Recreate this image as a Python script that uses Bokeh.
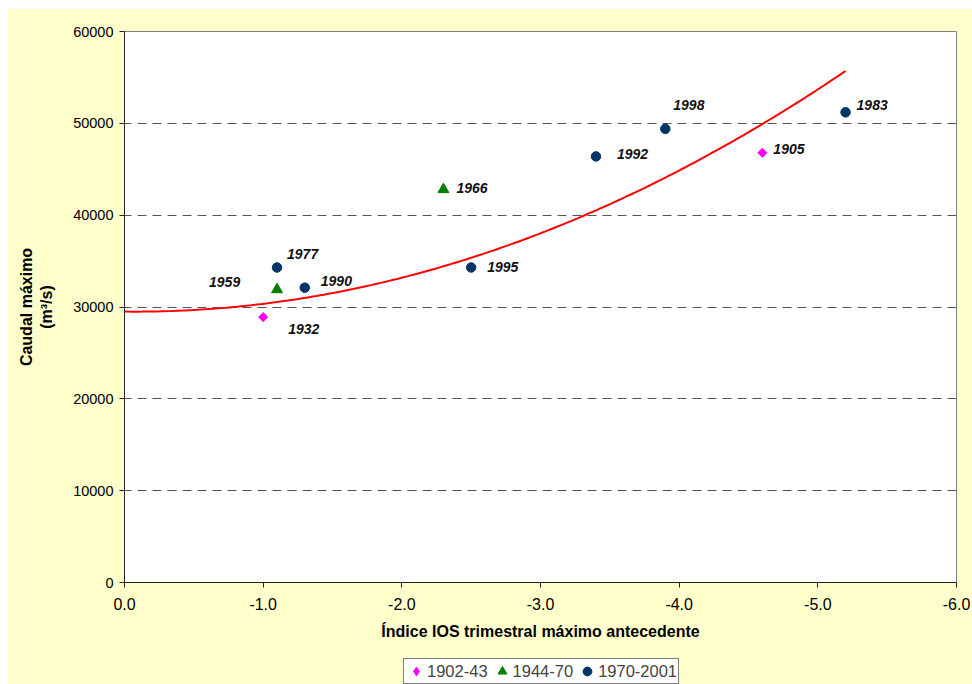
import numpy as np
from bokeh.plotting import figure
from bokeh.layouts import column
from bokeh.models import (ColumnDataSource, Range1d, FixedTicker, NumeralTickFormatter,
                          Legend, LegendItem)
from bokeh.core.properties import value
from bokeh.embed import file_html
from bokeh.resources import INLINE

# ---- data ----
s1_years = ["1932", "1905"]
s1_x = [-1.0, -4.6]
s1_y = [28900, 46800]

s2_years = ["1959", "1966"]
s2_x = [-1.1, -2.3]
s2_y = [31900, 42800]

s3_years = ["1977", "1990", "1995", "1992", "1998", "1983"]
s3_x = [-1.1, -1.3, -2.5, -3.4, -3.9, -5.2]
s3_y = [34300, 32100, 34300, 46400, 49400, 51200]

series_names = ["1902-43", "1944-70", "1970-2001"]

# polynomial trendline (order 2): y = c2*x^2 + c1*x + c0
trend_coef = [998, 151, 29500]
trend_x_range = [0.0, -5.2]

x_ticks = [0, -1, -2, -3, -4, -5, -6]
y_ticks = [0, 10000, 20000, 30000, 40000, 50000, 60000]

# ---- label offsets (styling, screen px) ----
label_offsets = {
    "1932": (25, 12), "1905": (11, -4),
    "1959": (-68, -8), "1966": (13, -1),
    "1977": (10, -14), "1990": (16, -7), "1995": (16, -1),
    "1992": (21, -2), "1998": (8, -24), "1983": (11, -7),
}

FONT = "Liberation Sans"
BG = "#FFFFCC"
C1, C2, C3 = "#FF00FF", "#008000", "#003366"

p = figure(width=964, height=639,
           x_range=Range1d(0, -6), y_range=Range1d(0, 60000),
           output_backend="svg", toolbar_location=None,
           min_border_left=116, min_border_right=16,
           min_border_top=22, min_border_bottom=66,
           border_fill_color=BG, background_fill_color="white",
           outline_line_color="#808080", outline_line_width=1)

# grid
p.xgrid.visible = False
p.ygrid.ticker = FixedTicker(ticks=y_ticks)
p.ygrid.grid_line_color = "#555555"
p.ygrid.grid_line_dash = "9 6"
p.ygrid.grid_line_width = 1

# axes
p.xaxis.ticker = FixedTicker(ticks=x_ticks)
p.xaxis.formatter = NumeralTickFormatter(format="0.0")
p.yaxis.ticker = FixedTicker(ticks=y_ticks)
p.yaxis.formatter = NumeralTickFormatter(format="0")
for ax in (p.xaxis, p.yaxis):
    ax.axis_line_color = "#222222"
    ax.major_tick_line_color = "#222222"
    ax.minor_tick_line_color = None
    ax.major_tick_in = 0
    ax.major_tick_out = 5
    ax.major_label_text_font = FONT
    ax.major_label_text_color = "black"
    ax.axis_label_text_font = FONT
    ax.axis_label_text_font_style = "bold"
    ax.axis_label_text_font_size = "16px"
    ax.axis_label_text_color = "black"

p.xaxis.major_label_text_font_size = "16px"
p.xaxis.major_label_standoff = 10
p.xaxis.axis_label = "Índice IOS trimestral máximo antecedente"
p.xaxis.axis_label_standoff = 10

p.yaxis.major_label_text_font_size = "14.5px"
p.yaxis.major_label_standoff = 6
p.yaxis.axis_label = "Caudal máximo\n(m³/s)"
p.yaxis.axis_label_standoff = 15

# trendline
tx = np.linspace(trend_x_range[0], trend_x_range[1], 200)
ty = np.polyval(trend_coef, tx)
p.line(tx, ty, line_color="#FF0000", line_width=2)

# series
def make_src(xs, ys, years):
    return ColumnDataSource(dict(
        x=xs, y=ys, year=years,
        dx=[label_offsets[yr][0] for yr in years],
        dy=[label_offsets[yr][1] for yr in years],
    ))

src1 = make_src(s1_x, s1_y, s1_years)
src2 = make_src(s2_x, s2_y, s2_years)
src3 = make_src(s3_x, s3_y, s3_years)

p.scatter("x", "y", source=src1, marker="square", angle=np.pi / 4, size=6.4,
          fill_color=C1, line_color=C1)
p.scatter("x", "y", source=src2, marker="triangle", size=11,
          fill_color=C2, line_color=C2)
p.scatter("x", "y", source=src3, marker="circle", size=9.5,
          fill_color=C3, line_color=C3)

for src in (src1, src2, src3):
    p.text("x", "y", text="year", source=src, x_offset="dx", y_offset="dy",
           text_font=value(FONT), text_font_size="14px", text_font_style="bold italic",
           text_color="#111111", text_align="left", text_baseline="middle")

# ---- legend strip (a second figure below, same background) ----
pl = figure(width=964, height=36, x_range=Range1d(0, 1), y_range=Range1d(0, 1),
            output_backend="svg", toolbar_location=None,
            x_axis_type=None, y_axis_type=None, min_border=0,
            border_fill_color=BG, background_fill_color=BG, outline_line_color=None)
pl.grid.visible = False
# same series drawn in this strip's ranges (all fall outside it, only the legend keys show)
k1 = pl.scatter(s1_x, s1_y, marker="diamond", size=10, fill_color=C1, line_color=C1)
k2 = pl.scatter(s2_x, s2_y, marker="triangle", size=11, fill_color=C2, line_color=C2)
k3 = pl.scatter(s3_x, s3_y, marker="circle", size=9.5, fill_color=C3, line_color=C3)

legend = Legend(items=[LegendItem(label=series_names[0], renderers=[k1]),
                       LegendItem(label=series_names[1], renderers=[k2]),
                       LegendItem(label=series_names[2], renderers=[k3])],
                orientation="horizontal", location=(279, 0),
                label_text_font=FONT, label_text_font_size="16.5px",
                glyph_width=22, glyph_height=22, label_height=20, label_standoff=0,
                spacing=3, padding=1, margin=0,
                border_line_color="black", border_line_width=1,
                background_fill_color="white", background_fill_alpha=1.0)
pl.add_layout(legend)

layout = column(p, pl, spacing=0, margin=(9, 0, 0, 8),
                styles={"background-color": BG})

open("out.html", "w").write(file_html(layout, INLINE))
